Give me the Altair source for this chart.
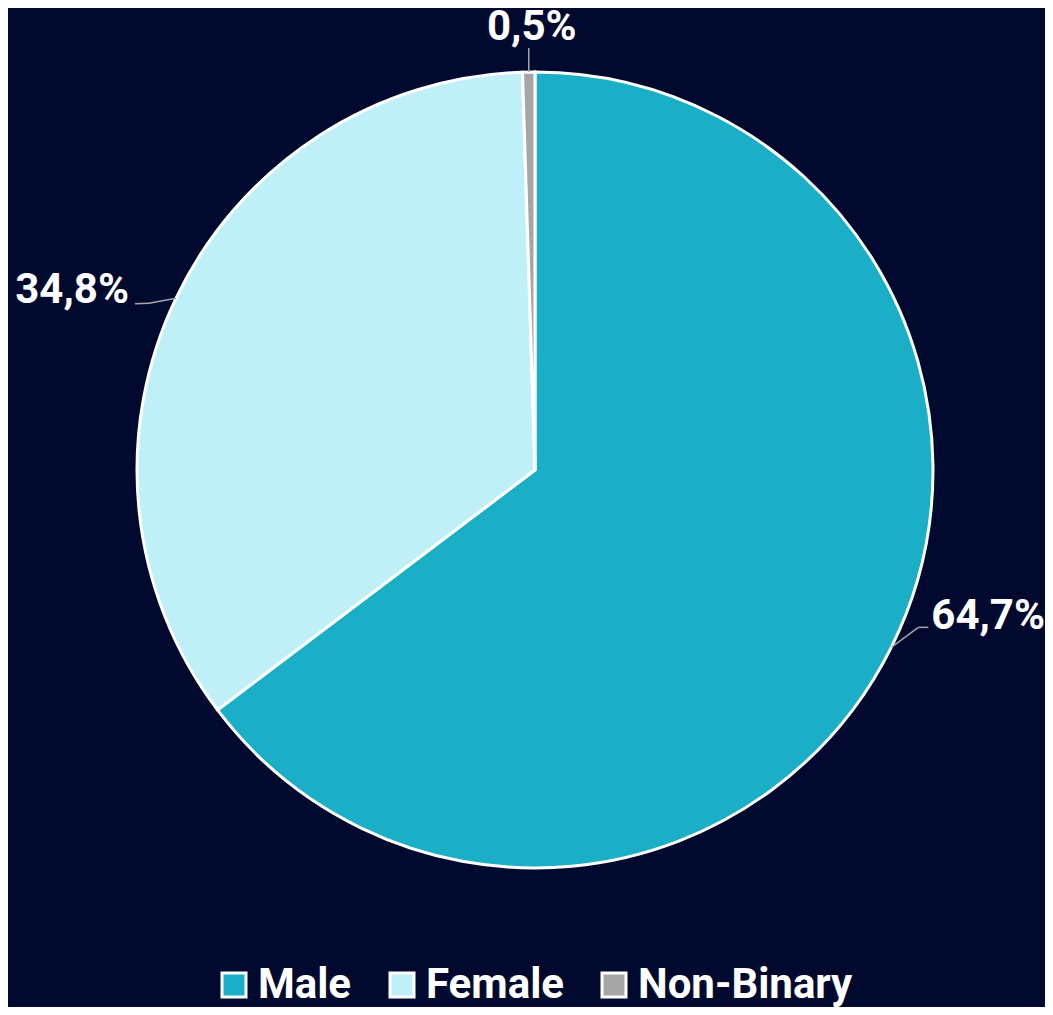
import altair as alt
import pandas as pd

# ---- data ----
categories = ["Male", "Female", "Non-Binary"]
shares = [64.7, 34.8, 0.5]

# ---- style / layout ----
colors = ["#1AAFC6", "#C0F0F7", "#A6A6A6"]
BG = "#010A2E"
W, H = 1037, 999
CX, CY, R = 527, 462, 398
FONT = "Roboto"
LABEL_SIZE = 42
LEGEND_SIZE = 42

# leader-line elbow / tail / label offsets relative to the slice edge point
leader = {
    "Male":       dict(ex=27, ey=-20, tx=37, ty=-20, lx=40, ly=-18, align="left"),
    "Female":     dict(ex=-27, ey=5, tx=-41, ty=5.5, lx=-47, ly=5, align="right"),
    "Non-Binary": dict(ex=0, ey=-12, tx=0, ty=-24, lx=3, ly=-32, align="center"),
}

df = pd.DataFrame({"category": categories, "share": shares,
                   "order": list(range(len(categories)))})
for k in ["ex", "ey", "tx", "ty", "lx", "ly", "align"]:
    df[k] = [leader[c][k] for c in categories]

arc = alt.Chart(df).mark_arc(outerRadius=R, stroke="white", strokeWidth=3).encode(
    theta=alt.Theta("share:Q", stack=True),
    color=alt.Color(
        "category:N",
        scale=alt.Scale(domain=categories, range=colors),
        legend=alt.Legend(
            orient="none", legendX=205, legendY=956, direction="horizontal",
            title=None, symbolType="square", symbolSize=576,
            symbolStrokeColor="white", symbolStrokeWidth=3, symbolOpacity=1,
            labelFont=FONT, labelFontSize=LEGEND_SIZE, labelFontWeight="bold",
            labelColor="white", labelOffset=3, columnPadding=29, padding=0,
            labelLimit=0,
        ),
    ),
    order=alt.Order("order:Q"),
    x=alt.value(CX),
    y=alt.value(CY),
)

base = (
    alt.Chart(df)
    .transform_joinaggregate(total="sum(share)")
    .transform_window(cum="sum(share)", sort=[alt.SortField("order")], frame=[None, 0])
    .transform_calculate(mid="(datum.cum - datum.share / 2) / datum.total * 2 * PI")
    .transform_calculate(x0=f"{CX} + {R} * sin(datum.mid)")
    .transform_calculate(y0=f"{CY} - {R} * cos(datum.mid)")
    .transform_calculate(x1="datum.x0 + datum.ex")
    .transform_calculate(y1="datum.y0 + datum.ey")
    .transform_calculate(x2="datum.x0 + datum.tx")
    .transform_calculate(y2="datum.y0 + datum.ty")
    .transform_calculate(xl="datum.x0 + datum.lx")
    .transform_calculate(yl="datum.y0 + datum.ly")
    .transform_calculate(label="replace(format(datum.share, '.1f'), '.', ',') + '%'")
)

LINE = "#A6A6A6"
seg1 = base.mark_rule(color=LINE, strokeWidth=1.5).encode(
    x=alt.X("x0:Q", scale=None, axis=None), y=alt.Y("y0:Q", scale=None, axis=None),
    x2="x1:Q", y2="y1:Q",
)
seg2 = base.mark_rule(color=LINE, strokeWidth=1.5).encode(
    x=alt.X("x1:Q", scale=None, axis=None), y=alt.Y("y1:Q", scale=None, axis=None),
    x2="x2:Q", y2="y2:Q",
)

texts = [
    base.transform_filter(f"datum.align == '{a}'")
    .mark_text(align=a, baseline="alphabetic", font=FONT, fontSize=LABEL_SIZE,
               fontWeight="bold", color="white")
    .encode(
        x=alt.X("xl:Q", scale=None, axis=None),
        y=alt.Y("yl:Q", scale=None, axis=None),
        text="label:N",
    )
    for a in ("left", "right", "center")
]

chart = (
    alt.layer(arc, seg1, seg2, *texts)
    .properties(width=W, height=H, autosize=alt.AutoSizeParams(type="none"),
                padding=0, background=BG)
    .configure_view(stroke=None)
)

chart.save("out.html", embed_options={"renderer": "svg", "actions": False})
